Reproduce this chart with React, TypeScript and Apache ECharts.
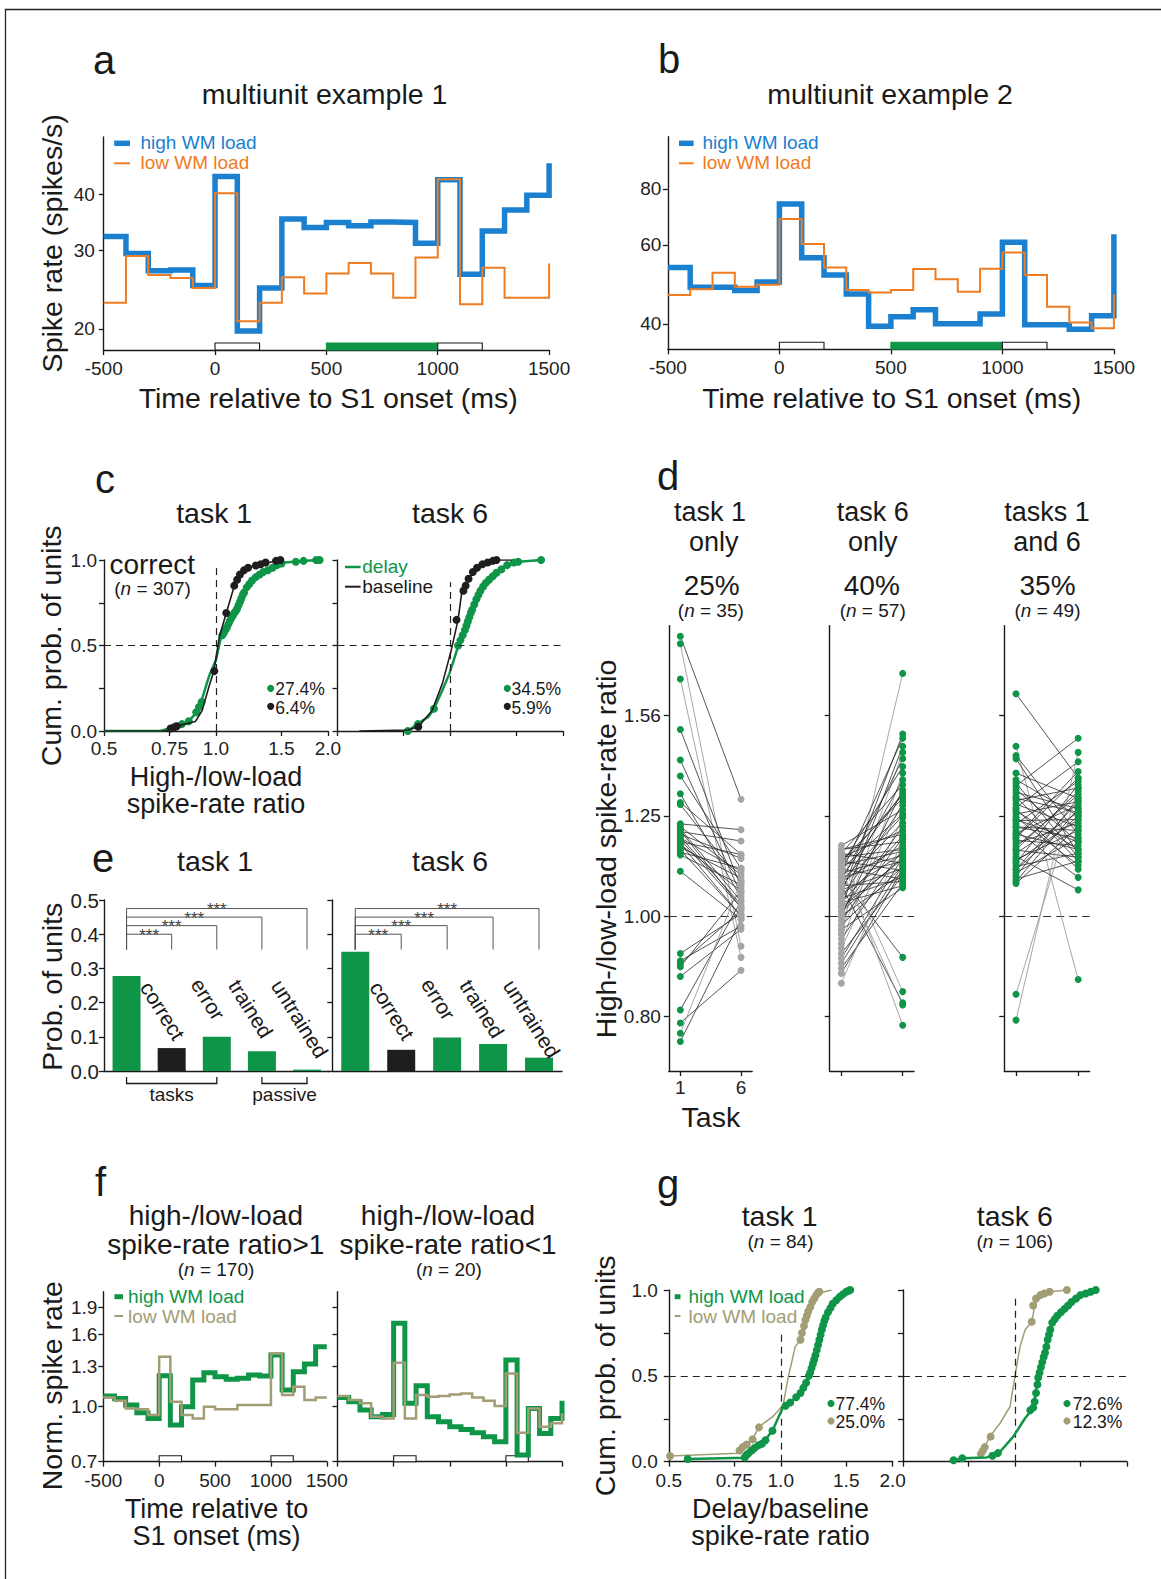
import React, { useEffect, useRef } from "react";
import * as echarts from "echarts";

const FONT = '"Liberation Sans", Arial, Helvetica, sans-serif';
const INK = "#1a1a1a";
const BLUE = "#1b80d0";
const ORANGE = "#f07c22";
const GREEN = "#0f9548";
const TAN = "#a29d74";
const GRAY = "#a5a5a5";
const BLACK = "#1f1d1e";

// ---------- shared time bins (bin starts, ms) ----------
const timeBins = [-500, -400, -300, -200, -100, 0, 100, 200, 300, 400, 500, 600, 700, 800, 900, 1000, 1100, 1200, 1300, 1400, 1500];

// ---------- panel a ----------
const aHigh = [32.2, 29.5, 27.0, 27.1, 25.0, 43.8, 19.8, 24.7, 35.2, 33.7, 34.6, 34.0, 34.7, 34.6, 31.1, 43.1, 26.5, 33.1, 36.9, 39.8, 46.9];
const aLow = [22.9, 29.1, 26.4, 26.0, 24.7, 40.2, 20.8, 22.9, 26.1, 24.0, 26.6, 28.1, 26.6, 23.5, 28.9, 43.2, 22.7, 27.4, 23.5, 23.5, 28.0];
const aYTicks = [20, 30, 40];
const aYRange = [17.95, 53.7];

// ---------- panel b ----------
const bHigh = [53.4, 48.3, 48.3, 47.5, 49.6, 74.0, 56.2, 51.4, 46.6, 39.5, 41.5, 43.0, 40.0, 40.0, 42.1, 60.8, 39.8, 39.8, 38.9, 41.7, 63.4];
const bLow = [46.4, 47.8, 52.0, 48.4, 48.9, 68.5, 60.3, 53.4, 47.6, 47.0, 47.6, 53.0, 50.3, 47.2, 53.1, 57.7, 51.4, 43.7, 40.3, 39.1, 46.6];
const bYTicks = [40, 60, 80];
const bYRange = [35.1, 104.6];

// stimulus periods [start, end, kind(0 = stimulus, 1 = delay)]
const stimAB = [[0, 200, 0], [500, 1000, 1], [1000, 1200, 0]];
const stimF = [[0, 200, 0], [1000, 1200, 0]];

// ---------- panel c (ratio, cumulative probability) ----------
const ratioTicks = [0.5, 0.75, 1.0, 1.5, 2.0];
const ratioLabels = ["0.5", "0.75", "1.0", "1.5", "2.0"];
const c1Delay = [[0.5, 0], [0.71, 0], [0.774, 0.025], [0.843, 0.055], [0.88, 0.1], [0.918, 0.19], [0.958, 0.32], [1.0, 0.415], [1.032, 0.55], [1.077, 0.62], [1.137, 0.71], [1.186, 0.805], [1.264, 0.89], [1.377, 0.94], [1.532, 0.985], [1.741, 0.996], [1.917, 1.0]];
const c1Base = [[0.5, 0], [0.742, 0], [0.758, 0.02], [0.79, 0.03], [0.88, 0.055], [0.918, 0.12], [0.958, 0.26], [0.989, 0.357], [1.021, 0.55], [1.066, 0.69], [1.112, 0.825], [1.161, 0.92], [1.237, 0.96], [1.348, 0.98], [1.5, 1.0]];
const c1DelayDots = [[0.78, 0.027], [0.81, 0.04], [0.845, 0.057], [0.885, 0.11], [0.9, 0.14], [0.915, 0.17], [1.04, 0.56], [1.05, 0.575], [1.06, 0.59], [1.07, 0.605], [1.08, 0.625], [1.09, 0.645], [1.1, 0.66], [1.11, 0.675], [1.12, 0.69], [1.13, 0.7], [1.14, 0.715], [1.15, 0.735], [1.16, 0.755], [1.17, 0.775], [1.18, 0.795], [1.19, 0.81], [1.21, 0.84], [1.23, 0.86], [1.25, 0.88], [1.28, 0.9], [1.31, 0.915], [1.34, 0.93], [1.38, 0.94], [1.42, 0.955], [1.46, 0.97], [1.5, 0.98], [1.64, 0.99], [1.72, 0.995], [1.86, 1.0], [1.9, 1.0]];
const c1BaseDots = [[0.755, 0.015], [0.77, 0.02], [0.785, 0.028], [0.99, 0.35], [1.066, 0.69], [1.12, 0.85], [1.14, 0.885], [1.16, 0.915], [1.19, 0.94], [1.22, 0.955], [1.28, 0.968], [1.32, 0.975], [1.36, 0.985], [1.45, 0.995], [1.49, 1.0]];
const c6Delay = [[0.771, 0], [0.822, 0.045], [0.876, 0.084], [0.905, 0.13], [0.954, 0.24], [0.996, 0.337], [1.05, 0.493], [1.096, 0.59], [1.144, 0.71], [1.206, 0.825], [1.286, 0.9], [1.4, 0.96], [1.526, 0.99], [1.75, 1.0]];
const c6Base = [[0.572, 0], [0.771, 0.006], [0.822, 0.025], [0.895, 0.12], [0.954, 0.28], [1.006, 0.47], [1.05, 0.65], [1.073, 0.805], [1.12, 0.89], [1.181, 0.96], [1.314, 1.0], [1.46, 1.0]];
const c6DelayDots = [[0.771, 0], [0.82, 0.04], [0.905, 0.13], [1.05, 0.5], [1.065, 0.53], [1.08, 0.56], [1.095, 0.59], [1.105, 0.615], [1.115, 0.64], [1.125, 0.665], [1.135, 0.69], [1.145, 0.71], [1.16, 0.74], [1.175, 0.77], [1.19, 0.795], [1.205, 0.82], [1.225, 0.845], [1.245, 0.865], [1.27, 0.885], [1.3, 0.905], [1.33, 0.925], [1.37, 0.945], [1.42, 0.97], [1.48, 0.985], [1.52, 0.99], [1.75, 1.0]];
const c6BaseDots = [[0.822, 0.025], [1.04, 0.65], [1.085, 0.82], [1.1, 0.85], [1.12, 0.89], [1.15, 0.93], [1.18, 0.955], [1.22, 0.975], [1.26, 0.985], [1.3, 0.995], [1.33, 1.0]];
const cPct = [["27.4%", "6.4%"], ["34.5%", "5.9%"]];

// ---------- panel d (task-1 ratio, task-6 ratio per unit) ----------
const dTicks = [0.8, 1.0, 1.25, 1.5625];
const dTickLabels = ["0.80", "1.00", "1.25", "1.56"];
const dYRange = [0.708, 1.91];
const dOnly1T1 = [1.865, 1.834, 1.696, 1.515, 1.416, 1.366, 1.313, 1.288, 1.282, 1.228, 1.221, 1.214, 1.207, 1.2, 1.193, 1.186, 1.18, 1.173, 1.166, 1.159, 1.153, 1.146, 1.105, 0.92, 0.905, 0.899, 0.893, 0.874, 0.811, 0.788, 0.77, 0.756, 1.19, 1.21, 1.175];
const dOnly1T6 = [1.297, 0.935, 0.912, 1.065, 1.049, 1.112, 1.042, 1.147, 1.08, 1.212, 1.096, 1.034, 1.182, 1.137, 1.026, 1.019, 1.147, 1.057, 1.088, 1.0, 1.112, 1.072, 0.993, 1.005, 0.978, 1.013, 1.057, 0.971, 1.034, 0.886, 1.08, 0.993, 1.105, 1.019, 1.0];
const dOnly6T1 = [0.96, 1.05, 1.1, 1.02, 0.98, 1.08, 1.12, 0.94, 1.06, 1.15, 1.0, 1.09, 1.13, 0.97, 1.04, 1.17, 1.11, 0.93, 1.07, 1.01, 1.14, 1.03, 0.99, 1.16, 1.08, 0.95, 1.12, 1.05, 1.1, 0.91, 1.02, 1.09, 1.15, 0.98, 1.06, 1.13, 1.0, 0.92, 1.04, 1.11, 1.07, 0.89, 1.03, 0.97, 1.14, 1.01, 0.9, 1.16, 1.08, 1.12, 0.88, 1.09, 1.15, 1.07, 1.11, 1.14, 0.861];
const dOnly6T6 = [1.717, 1.5, 1.486, 1.46, 1.44, 1.42, 1.395, 1.375, 1.355, 1.34, 1.325, 1.317, 1.3, 1.29, 1.28, 1.267, 1.255, 1.245, 1.231, 1.22, 1.21, 1.196, 1.19, 1.18, 1.17, 1.161, 1.155, 1.15, 1.145, 1.14, 1.135, 1.13, 1.125, 1.117, 1.112, 1.107, 1.1, 1.095, 1.09, 1.086, 1.08, 1.075, 1.07, 1.065, 1.16, 1.14, 1.12, 1.2, 1.25, 1.31, 1.11, 0.912, 0.845, 0.824, 0.82, 0.784, 1.185];
const dBothT1 = [1.641, 1.46, 1.43, 1.42, 1.375, 1.355, 1.345, 1.336, 1.326, 1.317, 1.305, 1.294, 1.283, 1.273, 1.264, 1.255, 1.246, 1.237, 1.228, 1.219, 1.21, 1.202, 1.193, 1.184, 1.176, 1.167, 1.158, 1.15, 1.142, 1.134, 1.125, 1.117, 1.109, 1.101, 1.093, 1.086, 1.08, 1.075, 1.19, 1.24, 1.16, 1.3, 1.2, 1.13, 1.27, 1.11, 1.22, 0.84, 0.793];
const dBothT6 = [1.36, 0.868, 1.2, 1.15, 1.3, 1.25, 1.14, 1.486, 1.18, 1.27, 1.13, 1.33, 1.22, 1.41, 1.16, 1.29, 1.12, 1.24, 1.35, 1.19, 1.09, 1.28, 1.38, 1.17, 1.23, 1.31, 1.14, 1.26, 1.06, 1.21, 1.34, 1.15, 1.25, 1.19, 1.3, 1.13, 1.27, 1.22, 1.36, 1.18, 1.32, 1.26, 1.16, 1.24, 1.11, 1.29, 1.21, 1.33, 1.44];

// ---------- panel e ----------
const eTask1 = [0.278, 0.067, 0.1, 0.058, 0.004];
const eTask6 = [0.349, 0.062, 0.098, 0.079, 0.039];
const eLabels = ["correct", "error", "trained", "untrained"];
const sigTargets = [1, 2, 3, 4];
const sigTops = [0.4, 0.425, 0.45, 0.475];
const sigBase = 0.355;
const eGroups = [[0, 2], [3, 4]];
const eGroupNames = ["tasks", "passive"];

// ---------- panel f ----------
const fTicks = [0.7, 1.0, 1.3, 1.6, 1.9];
const fTickLabels = ["0.7", "1.0", "1.3", "1.6", "1.9"];
const fYRange = [0.7, 2.108];
const fUpHigh = [1.072, 1.055, 1.011, 0.962, 0.927, 1.223, 0.888, 1.0, 1.189, 1.247, 1.215, 1.194, 1.202, 1.228, 1.22, 1.398, 1.114, 1.255, 1.319, 1.476, 1.476];
const fUpLow = [1.062, 1.04, 0.989, 0.983, 0.947, 1.383, 1.033, 0.947, 0.927, 1.0, 0.983, 0.983, 1.011, 1.011, 1.011, 1.413, 1.079, 1.138, 1.044, 1.062, 1.062];
const fDownHigh = [1.062, 1.033, 0.979, 0.937, 0.951, 1.717, 1.022, 1.146, 0.937, 0.907, 0.878, 0.863, 0.845, 0.823, 0.797, 1.353, 0.731, 0.989, 0.841, 0.927, 1.04];
const fDownLow = [1.072, 1.044, 1.022, 0.937, 0.927, 1.33, 0.927, 1.079, 1.067, 1.072, 1.083, 1.09, 1.062, 1.04, 1.004, 1.241, 0.845, 0.989, 0.878, 0.898, 0.958];

// ---------- panel g ----------
const g1High = [[0.562, 0.016], [0.803, 0.023], [0.838, 0.068], [0.893, 0.107], [0.952, 0.184], [1.015, 0.32], [1.082, 0.36], [1.129, 0.398], [1.178, 0.476], [1.23, 0.592], [1.283, 0.748], [1.339, 0.864], [1.412, 0.942], [1.49, 0.99], [1.538, 1.0]];
const g1Low = [[0.504, 0.033], [0.769, 0.049], [0.786, 0.087], [0.838, 0.126], [0.874, 0.204], [0.952, 0.262], [1.015, 0.33], [1.048, 0.495], [1.094, 0.67], [1.129, 0.709], [1.166, 0.825], [1.204, 0.903], [1.256, 0.98], [1.368, 1.0]];
const g1HighDots = [[0.562, 0.016], [0.8, 0.025], [0.81, 0.04], [0.82, 0.05], [0.835, 0.065], [0.85, 0.08], [0.87, 0.095], [0.89, 0.105], [0.91, 0.125], [0.95, 0.18], [1.03, 0.325], [1.06, 0.345], [1.1, 0.375], [1.13, 0.4], [1.15, 0.43], [1.17, 0.46], [1.19, 0.5], [1.2, 0.52], [1.21, 0.545], [1.22, 0.57], [1.23, 0.595], [1.24, 0.62], [1.25, 0.65], [1.26, 0.68], [1.27, 0.71], [1.28, 0.74], [1.29, 0.77], [1.3, 0.795], [1.31, 0.82], [1.32, 0.84], [1.34, 0.87], [1.36, 0.895], [1.38, 0.92], [1.41, 0.94], [1.44, 0.96], [1.47, 0.975], [1.5, 0.99], [1.52, 0.995], [1.538, 1.0]];
const g1LowDots = [[0.504, 0.033], [0.775, 0.065], [0.79, 0.085], [0.81, 0.1], [0.84, 0.13], [0.874, 0.2], [1.13, 0.71], [1.14, 0.75], [1.155, 0.79], [1.165, 0.825], [1.175, 0.85], [1.185, 0.875], [1.2, 0.9], [1.215, 0.93], [1.23, 0.95], [1.245, 0.97], [1.26, 0.985], [1.27, 0.99]];
const g6High = [[0.684, 0.008], [0.722, 0.02], [0.84, 0.025], [0.874, 0.039], [0.912, 0.058], [0.99, 0.146], [1.065, 0.253], [1.12, 0.311], [1.156, 0.495], [1.205, 0.631], [1.256, 0.806], [1.322, 0.864], [1.421, 0.932], [1.543, 0.981], [1.65, 1.0]];
const g6Low = [[0.812, 0.043], [0.829, 0.087], [0.856, 0.146], [0.912, 0.224], [0.97, 0.32], [1.0, 0.495], [1.032, 0.67], [1.065, 0.767], [1.11, 0.815], [1.132, 0.913], [1.168, 0.971], [1.243, 0.99], [1.378, 1.0]];
const g6HighDots = [[0.684, 0.008], [0.722, 0.02], [0.87, 0.035], [0.9, 0.05], [1.1, 0.3], [1.12, 0.315], [1.13, 0.35], [1.14, 0.4], [1.15, 0.45], [1.155, 0.49], [1.165, 0.52], [1.175, 0.55], [1.185, 0.58], [1.195, 0.61], [1.205, 0.635], [1.215, 0.67], [1.225, 0.71], [1.235, 0.74], [1.245, 0.77], [1.26, 0.81], [1.28, 0.83], [1.3, 0.85], [1.33, 0.87], [1.36, 0.89], [1.39, 0.91], [1.42, 0.93], [1.46, 0.95], [1.5, 0.97], [1.55, 0.98], [1.6, 0.99], [1.65, 1.0]];
const g6LowDots = [[0.81, 0.045], [0.82, 0.065], [0.83, 0.085], [0.86, 0.146], [1.11, 0.815], [1.12, 0.91], [1.14, 0.95], [1.17, 0.97], [1.2, 0.98], [1.24, 0.99], [1.38, 1.0]];
const gPct = [["77.4%", "25.0%"], ["72.6%", "12.3%"]];

// ---------- helpers ----------
const lg = (v: number) => Math.log10(v);
const l2 = (v: number) => Math.log2(v);

function nearest(vals: number[], labels: string[], f: (v: number) => number) {
  return (v: number) => {
    let best = 0;
    let bd = Infinity;
    vals.forEach((x, i) => {
      const d = Math.abs(f(x) - v);
      if (d < bd) { bd = d; best = i; }
    });
    return labels[best];
  };
}

function ax(gi: number, o: any) {
  const tick: any = { show: o.ticks !== false, length: 5, inside: false, lineStyle: { color: INK, width: 1.3 } };
  if (o.tickValues) tick.customValues = o.tickValues;
  const label: any = {
    show: !!o.labels, margin: o.margin ?? 8, color: "#222", fontSize: o.fontSize ?? 19, fontFamily: FONT,
    showMinLabel: true, showMaxLabel: true,
  };
  if (o.formatter) label.formatter = o.formatter;
  if (o.labelValues) label.customValues = o.labelValues;
  const a: any = {
    type: "value", gridIndex: gi, min: o.min, max: o.max, scale: false,
    axisLine: { show: true, onZero: false, lineStyle: { color: INK, width: 1.4 } },
    axisTick: tick, axisLabel: label, splitLine: { show: false },
  };
  if (o.interval != null) a.interval = o.interval;
  return a;
}

const timeAxis = (gi: number, labels: boolean, margin: number) =>
  ax(gi, { min: -500, max: 1500, interval: 500, labels, margin, formatter: (v: number) => String(v) });
const ratioAxis = (gi: number, labels: boolean, margin: number) =>
  ax(gi, { min: -1, max: 1, tickValues: ratioTicks.map(l2), labelValues: ratioTicks.map(l2), labels, margin, formatter: nearest(ratioTicks, ratioLabels, l2) });
const probAxis = (gi: number, labels: boolean, margin: number) =>
  ax(gi, { min: 0, max: 1, interval: 0.25, labelValues: [0, 0.5, 1], labels, margin, formatter: (v: number) => v.toFixed(1) });
const logAxis = (gi: number, range: number[], ticks: number[], tickLabels: string[], labels: boolean, margin: number) =>
  ax(gi, { min: lg(range[0]), max: lg(range[1]), tickValues: ticks.map(lg), labelValues: ticks.map(lg), labels, margin, formatter: nearest(ticks, tickLabels, lg) });
const taskAxis = (gi: number, labels: boolean) =>
  ax(gi, { min: 0.05, max: 6.92, tickValues: [1, 6], labelValues: [1, 6], labels, margin: 7, formatter: (v: number) => String(Math.round(v)) });
const barAxis = (gi: number) => ax(gi, { min: -0.5, max: 4.5, ticks: false, labels: false });

const stepSeries = (gi: number, vals: number[], color: string, width: number, z: number) => ({
  type: "line", xAxisIndex: gi, yAxisIndex: gi, step: "end", symbol: "none", silent: true, z,
  data: timeBins.map((t, i) => [t, lg(vals[i])]),
  lineStyle: { color, width, join: "miter", cap: "butt" },
});

const stimSeries = (gi: number, data: number[][], h: number) => ({
  type: "custom", xAxisIndex: gi, yAxisIndex: gi, clip: false, silent: true, z: 1,
  data, encode: { x: [0, 1] },
  renderItem: (params: any, api: any) => {
    const cs = params.coordSys;
    const x0 = api.coord([api.value(0), 0])[0];
    const x1 = api.coord([api.value(1), 0])[0];
    const bottom = cs.y + cs.height;
    const delay = api.value(2) === 1;
    return {
      type: "rect",
      shape: { x: x0, y: bottom - h, width: x1 - x0, height: h },
      style: { fill: delay ? GREEN : "#fff", stroke: delay ? GREEN : INK, lineWidth: 1.1 },
    };
  },
});

const dashed = { type: [7, 5], color: "#222", width: 1.2 };
const cdfSeries = (gi: number, pts: number[][], color: string, width: number, z: number, mark?: any) => {
  const s: any = {
    type: "line", xAxisIndex: gi, yAxisIndex: gi, symbol: "none", silent: true, z,
    data: pts.map(([r, p]) => [l2(r), p]),
    lineStyle: { color, width },
  };
  if (mark) s.markLine = { silent: true, symbol: "none", label: { show: false }, lineStyle: dashed, data: mark };
  return s;
};
const dotSeries = (gi: number, pts: number[][], color: string, size: number, z: number) => ({
  type: "scatter", xAxisIndex: gi, yAxisIndex: gi, symbol: "circle", symbolSize: size, silent: true, z,
  data: pts.map(([r, p]) => [l2(r), p]),
  itemStyle: { color, opacity: 1 },
});

const pairSeries = (gi: number, t1: number[], t6: number[]) => ({
  type: "custom", xAxisIndex: gi, yAxisIndex: gi, clip: false, silent: true, z: 2,
  data: t1.map((v, i) => [1, lg(v), 6, lg(t6[i])]),
  encode: { x: [0, 2], y: [1, 3] },
  renderItem: (params: any, api: any) => {
    const v1 = api.value(1);
    const v2 = api.value(3);
    const a = api.coord([api.value(0), v1]);
    const b = api.coord([api.value(2), v2]);
    const faint = v1 * v2 < 0 && Math.abs(v1 - v2) > 0.12;
    return {
      type: "line",
      shape: { x1: a[0], y1: a[1], x2: b[0], y2: b[1] },
      style: { stroke: faint ? "#8f8f8f" : "#2a2a2a", lineWidth: 0.8 },
    };
  },
});
const taskDots = (gi: number, task: number, vals: number[], color: string, mark?: any) => {
  const s: any = {
    type: "scatter", xAxisIndex: gi, yAxisIndex: gi, symbol: "circle", symbolSize: 7, silent: true, z: 4,
    data: vals.map((v) => [task, lg(v)]),
    itemStyle: { color, opacity: 1 },
  };
  if (mark) s.markLine = { silent: true, symbol: "none", label: { show: false }, lineStyle: { type: [8, 5], color: "#333", width: 1.2 }, data: mark, z: 1 };
  return s;
};

const barSeries = (gi: number, vals: number[]) => ({
  type: "bar", xAxisIndex: gi, yAxisIndex: gi, barWidth: 28, silent: true, z: 3,
  data: vals.map((v, i) => ({ value: [i, v], itemStyle: { color: i === 1 ? BLACK : GREEN } })),
});

const sigSeries = (gi: number) => ({
  type: "custom", xAxisIndex: gi, yAxisIndex: gi, clip: false, silent: true, z: 4,
  data: sigTargets.map((t, i) => [t, sigTops[i]]),
  encode: { x: 0, y: 1 },
  renderItem: (params: any, api: any) => {
    const t = api.value(0);
    const top = api.value(1);
    const a0 = api.coord([0, sigBase]);
    const a1 = api.coord([0, top]);
    const b1 = api.coord([t, top]);
    const b0 = api.coord([t, sigBase]);
    return {
      type: "group",
      children: [
        { type: "polyline", shape: { points: [a0, a1, b1, b0] }, style: { stroke: "#555", lineWidth: 1, fill: "none" } },
        {
          type: "text", x: (a1[0] + b1[0]) / 2, y: a1[1] + 1,
          style: { text: "***", fontSize: 17, fontFamily: FONT, fill: "#444", align: "center", verticalAlign: "middle", textAlign: "center", textVerticalAlign: "middle" },
        },
      ],
    };
  },
});

const labelDx = [8, 3, 6, 16];
const labelDy = [33, 53, 35, 15];
const eLabelSeries = (gi: number) => ({
  type: "custom", xAxisIndex: gi, yAxisIndex: gi, clip: false, silent: true, z: 5,
  data: eLabels.map((_, i) => [i + 1, 0]),
  encode: { x: 0, y: 1 },
  renderItem: (params: any, api: any) => {
    const k = params.dataIndex;
    const p = api.coord([api.value(0), 0]);
    return {
      type: "text", x: p[0] + labelDx[k], y: p[1] - labelDy[k], rotation: (-58 * Math.PI) / 180,
      style: { text: eLabels[k], fontSize: 21, fontFamily: FONT, fill: INK, align: "right", verticalAlign: "middle", textAlign: "right", textVerticalAlign: "middle" },
    };
  },
});
const groupSeries = (gi: number) => ({
  type: "custom", xAxisIndex: gi, yAxisIndex: gi, clip: false, silent: true, z: 5,
  data: eGroups.map((g) => [g[0], g[1]]),
  encode: { x: [0, 1] },
  renderItem: (params: any, api: any) => {
    const p0 = api.coord([api.value(0), 0]);
    const p1 = api.coord([api.value(1), 0]);
    const y0 = p0[1];
    return {
      type: "group",
      children: [
        { type: "polyline", shape: { points: [[p0[0], y0 + 6], [p0[0], y0 + 12.5], [p1[0], y0 + 12.5], [p1[0], y0 + 6]] }, style: { stroke: INK, lineWidth: 1.3, fill: "none" } },
        {
          type: "text", x: (p0[0] + p1[0]) / 2, y: y0 + 23.5,
          style: { text: eGroupNames[params.dataIndex], fontSize: 19, fontFamily: FONT, fill: INK, align: "center", verticalAlign: "middle", textAlign: "center", textVerticalAlign: "middle" },
        },
      ],
    };
  },
});

// ---------- graphic helpers ----------
const richN = (size: number) => ({ i: { fontStyle: "italic", fontSize: size, fontFamily: FONT, fill: INK } });
function T(x: number, y: number, text: string, size: number, o: any = {}) {
  const style: any = {
    text, fill: o.color ?? INK, fontSize: size, fontFamily: FONT,
    align: o.align ?? "center", verticalAlign: "middle", textAlign: o.align ?? "center", textVerticalAlign: "middle",
  };
  if (o.rich) style.rich = o.rich;
  if (o.lh) style.lineHeight = o.lh;
  return { type: "text", x, y, rotation: o.rot ?? 0, z: 100, silent: true, style };
}
const L = (x1: number, y1: number, x2: number, y2: number, stroke: string, lineWidth: number) => ({
  type: "line", z: 100, silent: true, shape: { x1, y1, x2, y2 }, style: { stroke, lineWidth },
});
const C = (cx: number, cy: number, fill: string) => ({ type: "circle", z: 100, silent: true, shape: { cx, cy, r: 3.6 }, style: { fill } });
const UP = Math.PI / 2;

function buildOption() {
  const grids = [
    { left: 103.7, top: 137, width: 445.4, height: 213 },
    { left: 667.9, top: 136.7, width: 446, height: 212.6 },
    { left: 104, top: 560, width: 223.9, height: 171 },
    { left: 337.5, top: 560, width: 225.3, height: 171 },
    { left: 668.8, top: 625.6, width: 83.4, height: 445.4 },
    { left: 829.7, top: 625.6, width: 84.3, height: 445.4 },
    { left: 1004.2, top: 625.6, width: 85.4, height: 445.4 },
    { left: 104, top: 900, width: 225.6, height: 171 },
    { left: 332.3, top: 900, width: 229.7, height: 171 },
    { left: 103.3, top: 1291.7, width: 223.5, height: 170 },
    { left: 337.5, top: 1291.7, width: 224.5, height: 170 },
    { left: 668.8, top: 1290, width: 223.9, height: 171.7 },
    { left: 903, top: 1290, width: 223.8, height: 171.7 },
  ].map((g) => ({ ...g, containLabel: false, outerBoundsMode: "none", show: false }));

  const xAxis = [
    timeAxis(0, true, 8.8),
    timeAxis(1, true, 8.8),
    ratioAxis(2, true, 7.8),
    ratioAxis(3, false, 7.8),
    taskAxis(4, true),
    taskAxis(5, false),
    taskAxis(6, false),
    barAxis(7),
    barAxis(8),
    timeAxis(9, true, 8.8),
    timeAxis(10, false, 8.8),
    ratioAxis(11, true, 8.8),
    ratioAxis(12, false, 8.8),
  ];
  const yAxis = [
    logAxis(0, aYRange, aYTicks, aYTicks.map(String), true, 8.8),
    logAxis(1, bYRange, bYTicks, bYTicks.map(String), true, 6.5),
    probAxis(2, true, 7),
    probAxis(3, false, 7),
    logAxis(4, dYRange, dTicks, dTickLabels, true, 8),
    logAxis(5, dYRange, dTicks, dTickLabels, false, 8),
    logAxis(6, dYRange, dTicks, dTickLabels, false, 8),
    ax(7, { min: 0, max: 0.5, interval: 0.1, labels: true, margin: 5, fontSize: 20.5, formatter: (v: number) => v.toFixed(1) }),
    ax(8, { min: 0, max: 0.5, interval: 0.1, labels: false }),
    logAxis(9, fYRange, fTicks, fTickLabels, true, 6),
    logAxis(10, fYRange, fTicks, fTickLabels, false, 6),
    probAxis(11, true, 11),
    probAxis(12, false, 11),
  ];

  const series: any[] = [
    // a
    stimSeries(0, stimAB, 7),
    stepSeries(0, aHigh, BLUE, 5.5, 3),
    stepSeries(0, aLow, ORANGE, 2, 4),
    // b
    stimSeries(1, stimAB, 7),
    stepSeries(1, bHigh, BLUE, 5.5, 3),
    stepSeries(1, bLow, ORANGE, 2, 4),
    // c task 1
    cdfSeries(2, c1Delay, GREEN, 2.5, 3, [{ yAxis: 0.5 }, [{ coord: [0, 0] }, { coord: [0, 0.97] }]]),
    dotSeries(2, c1DelayDots, GREEN, 8, 4),
    cdfSeries(2, c1Base, BLACK, 1.6, 5),
    dotSeries(2, c1BaseDots, BLACK, 8, 6),
    // c task 6
    cdfSeries(3, c6Delay, GREEN, 2.5, 3, [{ yAxis: 0.5 }, [{ coord: [0, 0] }, { coord: [0, 0.87] }]]),
    dotSeries(3, c6DelayDots, GREEN, 8, 4),
    cdfSeries(3, c6Base, BLACK, 1.6, 5),
    dotSeries(3, c6BaseDots, BLACK, 8, 6),
    // d
    pairSeries(4, dOnly1T1, dOnly1T6),
    taskDots(4, 1, dOnly1T1, GREEN, [{ yAxis: 0 }]),
    taskDots(4, 6, dOnly1T6, GRAY),
    pairSeries(5, dOnly6T1, dOnly6T6),
    taskDots(5, 1, dOnly6T1, GRAY, [{ yAxis: 0 }]),
    taskDots(5, 6, dOnly6T6, GREEN),
    pairSeries(6, dBothT1, dBothT6),
    taskDots(6, 1, dBothT1, GREEN, [{ yAxis: 0 }]),
    taskDots(6, 6, dBothT6, GREEN),
    // e
    barSeries(7, eTask1),
    sigSeries(7),
    eLabelSeries(7),
    groupSeries(7),
    barSeries(8, eTask6),
    sigSeries(8),
    eLabelSeries(8),
    // f
    stimSeries(9, stimF, 6),
    stepSeries(9, fUpHigh, GREEN, 5, 3),
    stepSeries(9, fUpLow, TAN, 2.5, 4),
    stimSeries(10, stimF, 6),
    stepSeries(10, fDownHigh, GREEN, 5, 3),
    stepSeries(10, fDownLow, TAN, 2.5, 4),
    // g task 1
    cdfSeries(11, g1Low, TAN, 1.5, 3, [{ yAxis: 0.5 }, [{ coord: [0, 0] }, { coord: [0, 0.75] }]]),
    dotSeries(11, g1LowDots, TAN, 8, 4),
    cdfSeries(11, g1High, GREEN, 2.5, 5),
    dotSeries(11, g1HighDots, GREEN, 8, 6),
    // g task 6
    cdfSeries(12, g6Low, TAN, 1.5, 3, [{ yAxis: 0.5 }, [{ coord: [0, 0] }, { coord: [0, 0.97] }]]),
    dotSeries(12, g6LowDots, TAN, 8, 4),
    cdfSeries(12, g6High, GREEN, 2.5, 5),
    dotSeries(12, g6HighDots, GREEN, 8, 6),
  ];

  const graphic: any[] = [
    { type: "rect", z: 0, silent: true, shape: { x: 5.5, y: 9.5, width: 1400, height: 1800 }, style: { fill: "none", stroke: "#222", lineWidth: 1.3 } },
    // panel letters
    T(93, 60, "a", 40, { align: "left" }),
    T(658, 59.3, "b", 40, { align: "left" }),
    T(95, 479.3, "c", 40, { align: "left" }),
    T(657, 476, "d", 40, { align: "left" }),
    T(92, 857.7, "e", 40, { align: "left" }),
    T(95, 1181.5, "f", 40, { align: "left" }),
    T(657, 1184.3, "g", 40, { align: "left" }),
    // a / b
    T(324.6, 94.2, "multiunit example 1", 28.5),
    T(890, 94.2, "multiunit example 2", 28.5),
    T(328.2, 397.5, "Time relative to S1 onset (ms)", 28.5),
    T(891.8, 397.5, "Time relative to S1 onset (ms)", 28.5),
    T(52, 243.3, "Spike rate (spikes/s)", 28.5, { rot: UP }),
    L(114.2, 143.3, 130, 143.3, BLUE, 5.5),
    T(140.5, 142.5, "high WM load", 19, { align: "left", color: BLUE }),
    L(114.2, 163.3, 130, 163.3, ORANGE, 2),
    T(140.5, 162.5, "low WM load", 19, { align: "left", color: ORANGE }),
    L(679, 143.3, 693.6, 143.3, BLUE, 5.5),
    T(702.5, 142.5, "high WM load", 19, { align: "left", color: BLUE }),
    L(679, 163.3, 693.6, 163.3, ORANGE, 2),
    T(702.5, 162.5, "low WM load", 19, { align: "left", color: ORANGE }),
    // c
    T(214.2, 512.5, "task 1", 28.5),
    T(450.1, 512.5, "task 6", 28.5),
    T(50.7, 645.8, "Cum. prob. of units", 28.5, { rot: UP }),
    T(216, 790.4, "High-/low-load\nspike-rate ratio", 27, { lh: 27 }),
    T(152.2, 564, "correct", 28),
    T(152.5, 588, "({i|n} = 307)", 19, { rich: richN(19) }),
    L(345, 567, 360.6, 567, GREEN, 2.5),
    T(362.3, 566.7, "delay", 19, { align: "left", color: GREEN }),
    L(345, 586.7, 360.6, 586.7, BLACK, 2),
    T(362.3, 586.7, "baseline", 19, { align: "left" }),
    C(270.7, 688.3, GREEN),
    T(275.2, 689, cPct[0][0], 17.5, { align: "left" }),
    C(270.7, 706.3, BLACK),
    T(275.2, 707.5, cPct[0][1], 17.5, { align: "left" }),
    C(507.3, 688.3, GREEN),
    T(511.4, 689, cPct[1][0], 17.5, { align: "left" }),
    C(507.3, 706.3, BLACK),
    T(511.4, 707.5, cPct[1][1], 17.5, { align: "left" }),
    // d
    T(710, 527, "task 1\n only", 27, { lh: 29.5 }),
    T(711.7, 585.5, "25%", 28),
    T(710.8, 610, "({i|n} = 35)", 19, { rich: richN(19) }),
    T(872.7, 527, "task 6\nonly", 27, { lh: 29.5 }),
    T(871.8, 585.5, "40%", 28),
    T(872.7, 610, "({i|n} = 57)", 19, { rich: richN(19) }),
    T(1047, 527, "tasks 1\nand 6", 27, { lh: 29.5 }),
    T(1047.5, 585.5, "35%", 28),
    T(1047.5, 610, "({i|n} = 49)", 19, { rich: richN(19) }),
    T(605.8, 849, "High-/low-load spike-rate ratio", 28.5, { rot: UP }),
    T(710.9, 1116.8, "Task", 28.5),
    // e
    T(215, 860.8, "task 1", 28.5),
    T(450.1, 860.8, "task 6", 28.5),
    T(51.5, 986.7, "Prob. of units", 28.5, { rot: UP }),
    // f
    T(215.8, 1229.9, "high-/low-load\nspike-rate ratio>1", 28, { lh: 29 }),
    T(216, 1269, "({i|n} = 170)", 19, { rich: richN(19) }),
    T(448, 1229.9, "high-/low-load\nspike-rate ratio<1", 28, { lh: 29 }),
    T(448.9, 1269, "({i|n} = 20)", 19, { rich: richN(19) }),
    L(114.4, 1296.7, 123, 1296.7, GREEN, 5),
    T(128.1, 1296.7, "high WM load", 19, { align: "left", color: GREEN }),
    L(114.4, 1316, 123, 1316, TAN, 2),
    T(128.1, 1316, "low WM load", 19, { align: "left", color: TAN }),
    T(51.5, 1385.8, "Norm. spike rate", 28.5, { rot: UP }),
    T(216.5, 1522.5, "Time relative to\nS1 onset (ms)", 27, { lh: 27 }),
    // g
    T(779.7, 1215.8, "task 1", 28.5),
    T(780.5, 1241, "({i|n} = 84)", 19, { rich: richN(19) }),
    T(1014.8, 1215.8, "task 6", 28.5),
    T(1014.8, 1241, "({i|n} = 106)", 19, { rich: richN(19) }),
    L(674.7, 1296.7, 680.5, 1296.7, GREEN, 5),
    T(688.5, 1296.7, "high WM load", 19, { align: "left", color: GREEN }),
    L(674.7, 1316, 680.5, 1316, TAN, 2),
    T(688.5, 1316, "low WM load", 19, { align: "left", color: TAN }),
    C(831, 1403.5, GREEN),
    T(835.5, 1403.5, gPct[0][0], 17.5, { align: "left" }),
    C(831, 1421, TAN),
    T(835.5, 1421.5, gPct[0][1], 17.5, { align: "left" }),
    C(1067, 1403.5, GREEN),
    T(1072.7, 1403.5, gPct[1][0], 17.5, { align: "left" }),
    C(1067, 1421, TAN),
    T(1072.7, 1421.5, gPct[1][1], 17.5, { align: "left" }),
    T(605, 1375.8, "Cum. prob. of units", 28.5, { rot: UP }),
    T(780.5, 1522.5, "Delay/baseline\nspike-rate ratio", 27, { lh: 27 }),
  ];

  return {
    animation: false,
    backgroundColor: "#ffffff",
    textStyle: { fontFamily: FONT },
    grid: grids,
    xAxis,
    yAxis,
    series,
    graphic: { elements: graphic },
  };
}

export default function App() {
  const ref = useRef<HTMLDivElement>(null);
  useEffect(() => {
    if (!ref.current) return;
    const chart = echarts.init(ref.current, null, { renderer: "svg", width: 1161, height: 1579 });
    chart.setOption(buildOption() as any);
    return () => chart.dispose();
  }, []);
  return (
    <div
      ref={ref}
      style={{ position: "absolute", left: 0, top: 0, width: 1161, height: 1579, background: "#fff" }}
    />
  );
}
